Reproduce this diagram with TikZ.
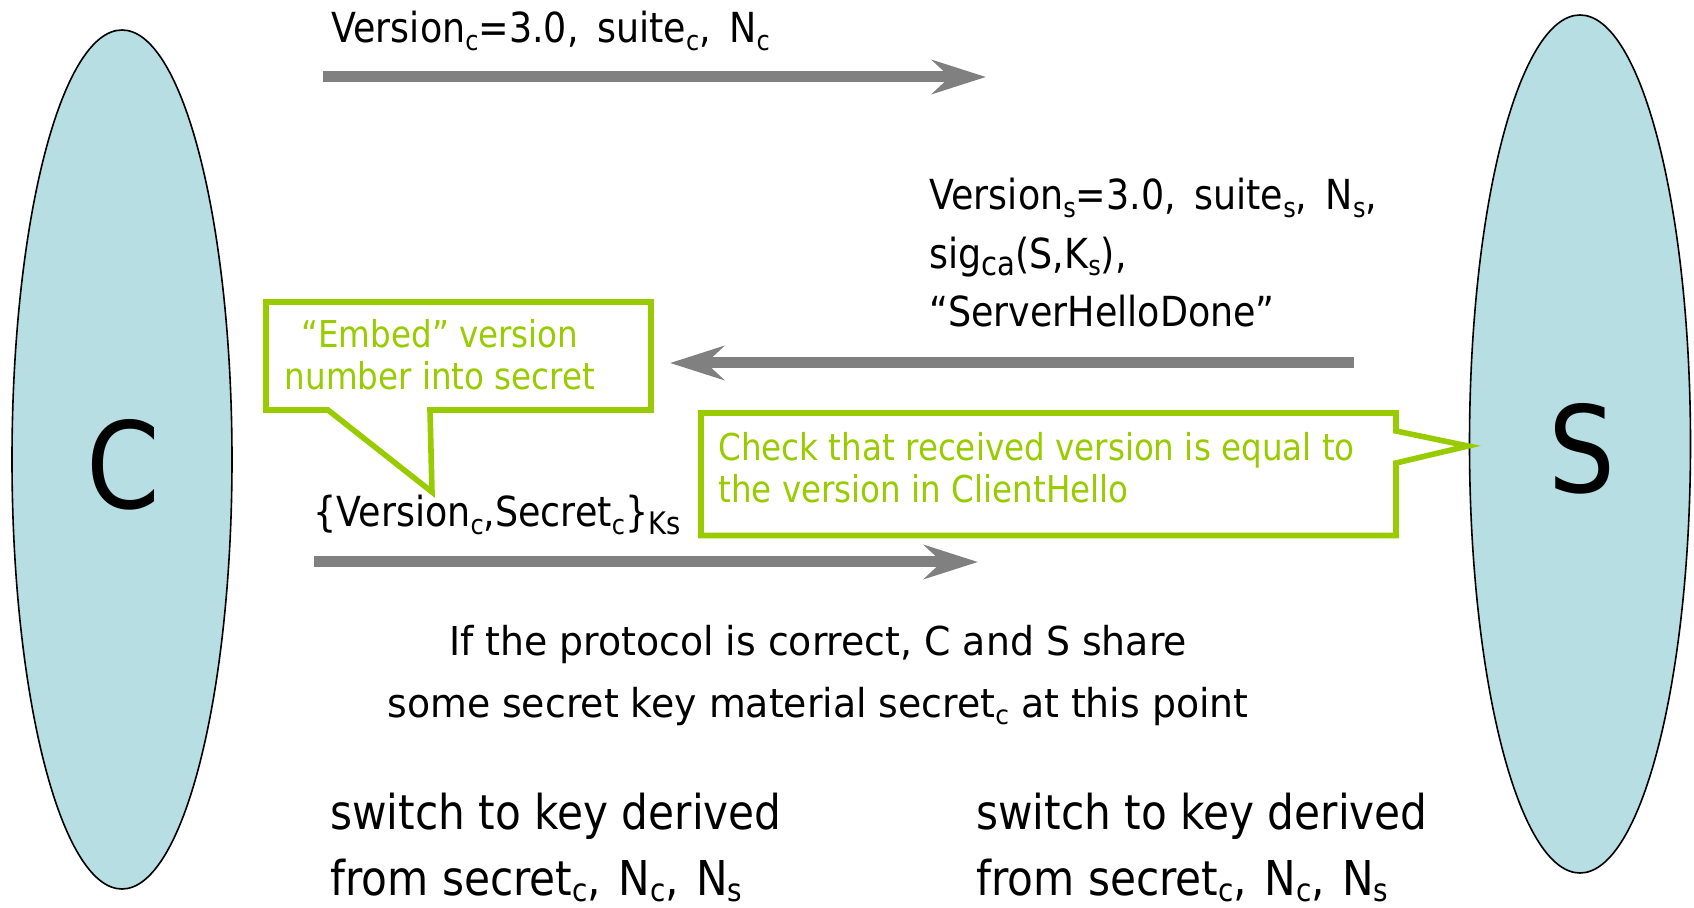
\documentclass[tikz,border=0pt]{standalone}
\usepackage{fontspec}
\setmainfont{DejaVu Sans}
\newfontfamily\narrowfont{DejaVu Sans}[FakeStretch=0.88]
\newfontfamily\midfont{DejaVu Sans}[FakeStretch=0.95]
\usetikzlibrary{arrows.meta,shapes.geometric}
\definecolor{partyfill}{RGB}{183,222,226}
\definecolor{msggray}{RGB}{128,128,128}
\definecolor{notegreen}{RGB}{153,204,0}
% lowered small index, as in Version_c
\newcommand\idx[2][0.66]{\raisebox{-0.32ex}{\scalebox{#1}{#2}}}
\newcommand\lowidx[1]{\raisebox{-0.2ex}{\scalebox{0.66}{#1}}}
\tikzset{
  party/.style={ellipse, draw=black, line width=0.8pt, fill=partyfill, inner sep=0pt},
  partyname/.style={inner sep=0pt, font=\narrowfont\fontsize{60}{60}\selectfont},
  msg/.style={draw=msggray, line width=5.5pt,
    -{Stealth[length=27pt,width=17pt,inset=9pt]}},
  label/.style={inner sep=0pt, font=\narrowfont\fontsize{20.7}{29.25}\selectfont},
  remark/.style={inner sep=0pt, font=\midfont\fontsize{19.9}{31}\selectfont},
  keyswitch/.style={inner sep=0pt, font=\narrowfont\fontsize{24}{33}\selectfont},
  note/.style={draw=notegreen, line width=2.8pt, line join=miter},
  notetext/.style={inner sep=0pt, text=notegreen, font=\narrowfont\fontsize{18.5}{21}\selectfont},
}
\begin{document}
\begin{tikzpicture}[x=0.5pt,y=-0.5pt]
\useasboundingbox (0,0) rectangle (1694,908);

% the two parties
\node[party, minimum width=110pt, minimum height=429.5pt] (C) at (122,459.5) {};
\node[party, minimum width=110.5pt, minimum height=429pt] (S) at (1580,444) {};
\node[partyname] (Cname) at (123.5,465) {C};
\node[partyname] (Sname) at (1582.5,448.5) {S};

% ClientHello
\coordinate (m1a) at (323,77);
\coordinate (m1b) at (986,77);
\draw[msg] (m1a) -- (m1b);
\node[label, anchor=base west] (l1) at (331,43)
  {Version\idx{c}=3.0, \,suite\idx{c}, \,N\idx{c}};

% ServerHello
\coordinate (m2a) at (1354,363);
\coordinate (m2b) at (670,363);
\draw[msg] (m2a) -- (m2b);
\node[label, anchor=base west, align=left] (l2) at (929,327)
  {Version\idx{s}=3.0, \,suite\idx{s}, \,N\idx{s},\\
   sig\idx[0.8]{ca}(S,K\idx{s}),\\
   “ServerHelloDone”};

% ClientKeyExchange
\coordinate (m3a) at (314,562);
\coordinate (m3b) at (978,562);
\draw[msg] (m3a) -- (m3b);
\node[label, anchor=base west] (l3) at (313,527)
  {\{Version\idx{c},Secret\idx{c}\}\idx[0.75]{Ks}};

% callouts
\draw[note] (266,302) -- (651,302) -- (651,410) -- (430,410) -- (432,492)
  -- (328,410) -- (266,410) -- cycle;
\node[notetext, anchor=base, align=center] (n1) at (440,390)
  {“Embed” version\\number into secret};

\draw[note] (701,413) -- (1396,413) -- (1396,431) -- (1468,446) -- (1396,463)
  -- (1396,535.5) -- (701,535.5) -- cycle;
\node[notetext, anchor=base west, align=left] (n2) at (718,503)
  {Check that received version is equal to\\the version in ClientHello};

% shared secret remark
\node[remark, anchor=base, align=center] (shared) at (818,718)
  {If the protocol is correct, C and S share\\
   some secret key material secret\idx{c} at this point};

% key switch on both sides
\node[keyswitch, anchor=base west, align=left] (kc) at (330,896)
  {switch to key derived\\from secret\lowidx{c}, \hspace{2pt}N\lowidx{c}, \hspace{2pt}N\lowidx{s}};
\node[keyswitch, anchor=base west, align=left] (ks) at (976,896)
  {switch to key derived\\from secret\lowidx{c}, \hspace{2pt}N\lowidx{c}, \hspace{2pt}N\lowidx{s}};
\end{tikzpicture}
\end{document}
